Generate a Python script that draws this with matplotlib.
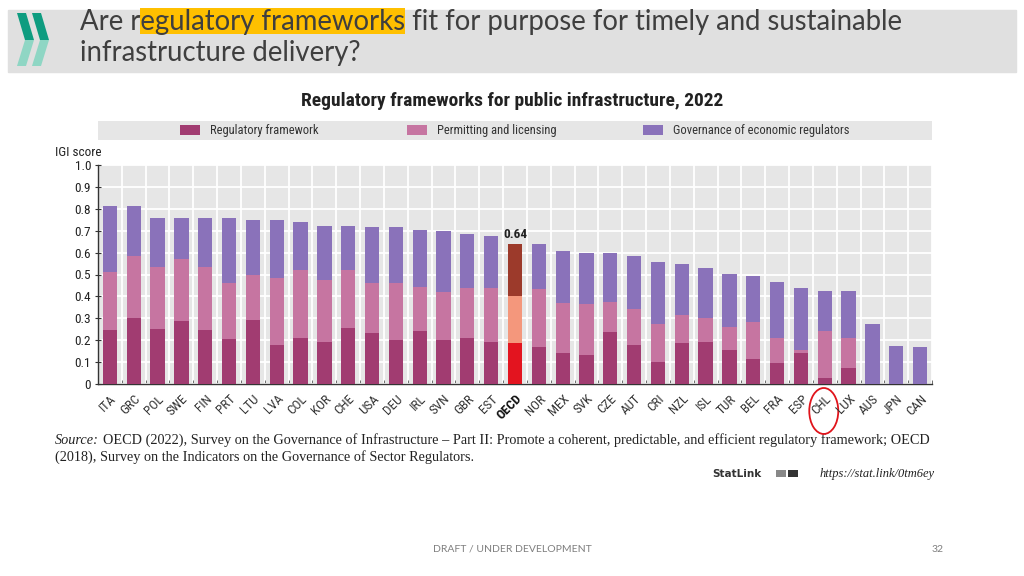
import os
import matplotlib
matplotlib.use("Agg")
import matplotlib.pyplot as plt
from matplotlib import font_manager as fm
from matplotlib.patches import Rectangle, Polygon, Ellipse
import numpy as np

# ---------------- data ----------------
countries = ["ITA", "GRC", "POL", "SWE", "FIN", "PRT", "LTU", "LVA", "COL", "KOR",
             "CHE", "USA", "DEU", "IRL", "SVN", "GBR", "EST", "OECD", "NOR", "MEX",
             "SVK", "CZE", "AUT", "CRI", "NZL", "ISL", "TUR", "BEL", "FRA", "ESP",
             "CHL", "LUX", "AUS", "JPN", "CAN"]
regulatory = [0.247, 0.300, 0.250, 0.289, 0.247, 0.205, 0.292, 0.180, 0.209, 0.191,
              0.256, 0.233, 0.203, 0.241, 0.203, 0.212, 0.194, 0.189, 0.171, 0.142,
              0.133, 0.238, 0.180, 0.100, 0.189, 0.194, 0.156, 0.114, 0.098, 0.142,
              0.026, 0.074, 0.000, 0.000, 0.000]
permitting = [0.263, 0.283, 0.283, 0.284, 0.286, 0.257, 0.205, 0.302, 0.311, 0.282,
              0.264, 0.230, 0.256, 0.204, 0.218, 0.227, 0.245, 0.211, 0.264, 0.229,
              0.231, 0.135, 0.161, 0.174, 0.126, 0.109, 0.106, 0.171, 0.114, 0.014,
              0.215, 0.138, 0.000, 0.000, 0.000]
governance = [0.304, 0.231, 0.227, 0.183, 0.223, 0.294, 0.253, 0.265, 0.221, 0.250,
              0.203, 0.254, 0.258, 0.260, 0.277, 0.246, 0.235, 0.240, 0.206, 0.238,
              0.234, 0.225, 0.244, 0.284, 0.232, 0.226, 0.238, 0.210, 0.255, 0.283,
              0.183, 0.212, 0.273, 0.174, 0.170]
series_names = ["Regulatory framework", "Permitting and licensing",
                "Governance of economic regulators"]
highlight = "OECD"
circled = "CHL"
yticks = [0, 0.1, 0.2, 0.3, 0.4, 0.5, 0.6, 0.7, 0.8, 0.9, 1.0]
ytick_labels = ["0", "0.1", "0.2", "0.3", "0.4", "0.5", "0.6", "0.7", "0.8", "0.9", "1.0"]

slide_title_1 = "Are regulatory frameworks fit for purpose for timely and sustainable"
slide_title_2 = "infrastructure delivery?"
highlight_words = "egulatory frameworks"
chart_title = "Regulatory frameworks for public infrastructure, 2022"
y_title = "IGI score"
source_1 = ("OECD (2022), Survey on the Governance of Infrastructure \u2013 Part II: Promote a coherent, "
            "predictable, and efficient regulatory framework; OECD")
source_2 = "(2018), Survey on the Indicators on the Governance of Sector Regulators."
statlink_url = "https://stat.link/0tm6ey"
footer = "DRAFT / UNDER DEVELOPMENT"
page = "32"

# ---------------- style ----------------
series_colors = ["#A13C71", "#C675A1", "#8A72BA"]
oecd_colors = ["#E3141F", "#F4977C", "#9C3A2B"]
SANS = ["Lato", "DejaVu Sans"]
SERIF = ["Liberation Serif", "DejaVu Serif"]


def pick_condensed():
    fams = ["Liberation Sans Narrow", "Roboto Condensed", "Open Sans Condensed",
            "Noto Sans Condensed", "DejaVu Sans Condensed", "Noto Sans", "DejaVu Sans",
            "Roboto", "Open Sans"]
    for fam in fams:
        for st in ["condensed", "semi-condensed"]:
            try:
                path = fm.findfont(fm.FontProperties(family=fam, stretch=st),
                                   fallback_to_default=False)
            except Exception:
                continue
            name = os.path.basename(path).lower()
            if "condensed" in name or "narrow" in name:
                return fam, st
    return "DejaVu Sans", "normal"


NFAM, NSTR = pick_condensed()
NARROW = dict(family=[NFAM, "DejaVu Sans"], fontstretch=NSTR)

W, H = 1024, 576
fig = plt.figure(figsize=(W / 100, H / 100), dpi=100)
fig.patch.set_facecolor("white")

bg = fig.add_axes([0, 0, 1, 1], zorder=0)
bg.set_xlim(0, W)
bg.set_ylim(H, 0)
bg.axis("off")
bg.patch.set_visible(False)

renderer = fig.canvas.get_renderer()


def width_of(t):
    return t.get_window_extent(renderer).width


def fit(t, target):
    w = width_of(t)
    t.set_fontsize(t.get_fontsize() * target / w)


# header band
bg.add_patch(Rectangle((8, 10), 1008, 62, color="#E0E0E0", zorder=0))

# OECD logo chevrons
for dx in (0, 15):
    bg.add_patch(Polygon([(17 + dx, 13), (26 + dx, 13), (34 + dx, 40), (25 + dx, 40)],
                         closed=True, color="#0E9C80", zorder=2, lw=0))
    bg.add_patch(Polygon([(25 + dx, 40), (34 + dx, 40), (26 + dx, 66), (17 + dx, 66)],
                         closed=True, color="#8FD6C4", zorder=2, lw=0))

# slide title
t1 = bg.text(80, 22, slide_title_1, family=SANS, fontsize=20, color="#3F3F3F",
             va="center", ha="left", zorder=3)
fit(t1, 825)
fs = t1.get_fontsize()
t2 = bg.text(80, 53, slide_title_2, family=SANS, fontsize=fs, color="#3F3F3F",
             va="center", ha="left", zorder=3)
idx = slide_title_1.find(highlight_words)
p1 = bg.text(0, 0, slide_title_1[:idx], family=SANS, fontsize=fs)
p2 = bg.text(0, 0, slide_title_1[:idx + len(highlight_words)], family=SANS, fontsize=fs)
x_a = 80 + width_of(p1)
x_b = 80 + width_of(p2)
p1.remove()
p2.remove()
bg.add_patch(Rectangle((x_a, 8), x_b - x_a, 26, color="#FFC000", zorder=1, lw=0))

# chart title
ct = bg.text(512, 101, chart_title, fontweight="bold", fontsize=11,
             color="#222222", ha="center", va="center", **NARROW)
fit(ct, 419)

# legend band
bg.add_patch(Rectangle((98, 121), 834, 19, color="#E6E6E6", lw=0))
leg_x = [180, 407, 643]
for lx, name, col in zip(leg_x, series_names, series_colors):
    bg.add_patch(Rectangle((lx, 125), 20, 10, color=col, lw=0))
    bg.text(lx + 30, 130.5, name, fontsize=9, color="#333333",
            ha="left", va="center", **NARROW)

# ---------------- chart ----------------
ax = fig.add_axes([98 / W, 1 - 384 / H, (932 - 98) / W, (384 - 165) / H], zorder=1)
ax.set_facecolor("#E6E6E6")
n = len(countries)
x = np.arange(n)
reg = np.array(regulatory)
per = np.array(permitting)
gov = np.array(governance)


def cols(i):
    return [oecd_colors[i] if c == highlight else series_colors[i] for c in countries]


ax.bar(x, reg, width=0.6, color=cols(0), zorder=3, lw=0)
ax.bar(x, per, bottom=reg, width=0.6, color=cols(1), zorder=3, lw=0)
ax.bar(x, gov, bottom=reg + per, width=0.6, color=cols(2), zorder=3, lw=0)

ax.set_xlim(-0.5, n - 0.5)
ax.set_ylim(0, 1)
ax.set_yticks(yticks)
ax.set_yticklabels(ytick_labels, fontsize=9.5, color="#222222", **NARROW)
ax.set_xticks(x)
ax.set_xticklabels(countries, rotation=45, ha="right", rotation_mode="anchor",
                   fontsize=9.5, color="#333333", **NARROW)
for lab in ax.get_xticklabels():
    if lab.get_text() == highlight:
        lab.set_fontweight("bold")
        lab.set_color("#111111")
ax.set_xticks(np.arange(n + 1) - 0.5, minor=True)
ax.tick_params(axis="x", which="major", length=0, pad=6)
ax.tick_params(axis="x", which="minor", length=3, direction="in", color="#555555")
ax.tick_params(axis="y", which="major", length=4, direction="inout", color="#333333", pad=3)
ax.set_axisbelow(True)
ax.grid(which="minor", axis="x", color="white", lw=1.3)
ax.grid(which="major", axis="y", color="white", lw=1.3)
for s in ("top", "right"):
    ax.spines[s].set_visible(False)
for s in ("left", "bottom"):
    ax.spines[s].set_color("#333333")
    ax.spines[s].set_linewidth(1.0)

oi = countries.index(highlight)
tot = reg[oi] + per[oi] + gov[oi]
ax.text(oi, tot + 0.012, f"{tot:.2f}", ha="center", va="bottom",
        fontweight="bold", fontsize=9.5, color="#222222", zorder=4, **NARROW)

bg.text(55, 152, y_title, fontsize=9.5, color="#222222",
        ha="left", va="center", **NARROW)

# circle around CHL
ci = countries.index(circled)
cx = 98 + (ci + 0.5) * 834 / n
bg.add_patch(Ellipse((cx - 1, 411), 29, 46, fill=False, ec="#E0141B", lw=1.3, zorder=5))

# source
s0 = bg.text(55, 440, "Source:", family=SERIF, fontstyle="italic", fontsize=9.5,
             color="#222222", ha="left", va="center")
s1 = bg.text(0, 440, source_1, family=SERIF, fontsize=9.5, color="#222222",
             ha="left", va="center")
w0 = width_of(s0)
w1 = width_of(s1)
scale = 880 / (w0 + 4 + w1)
s0.set_fontsize(9.5 * scale)
s1.set_fontsize(9.5 * scale)
s1.set_x(55 + width_of(s0) + 4 * scale)
bg.text(55, 457, source_2, family=SERIF, fontsize=9.5 * scale, color="#222222",
        ha="left", va="center")

# statlink
bg.text(712, 474, "StatLink", family=["DejaVu Sans"], fontweight="bold", fontsize=7.5,
        color="#333333", ha="left", va="center")
bg.add_patch(Rectangle((776, 470), 10, 7, color="#888888", lw=0))
bg.add_patch(Rectangle((788, 470), 10, 7, color="#333333", lw=0))
bg.text(935, 474, statlink_url, family=SERIF, fontstyle="italic", fontsize=9,
        color="#222222", ha="right", va="center")

# footer
bg.text(512, 549, footer, family=SANS, fontsize=7.5, color="#7F7F7F",
        ha="center", va="center")
bg.text(938, 549, page, family=SANS, fontsize=7.5, color="#7F7F7F",
        ha="center", va="center")

fig.savefig("out.png", dpi=100)
